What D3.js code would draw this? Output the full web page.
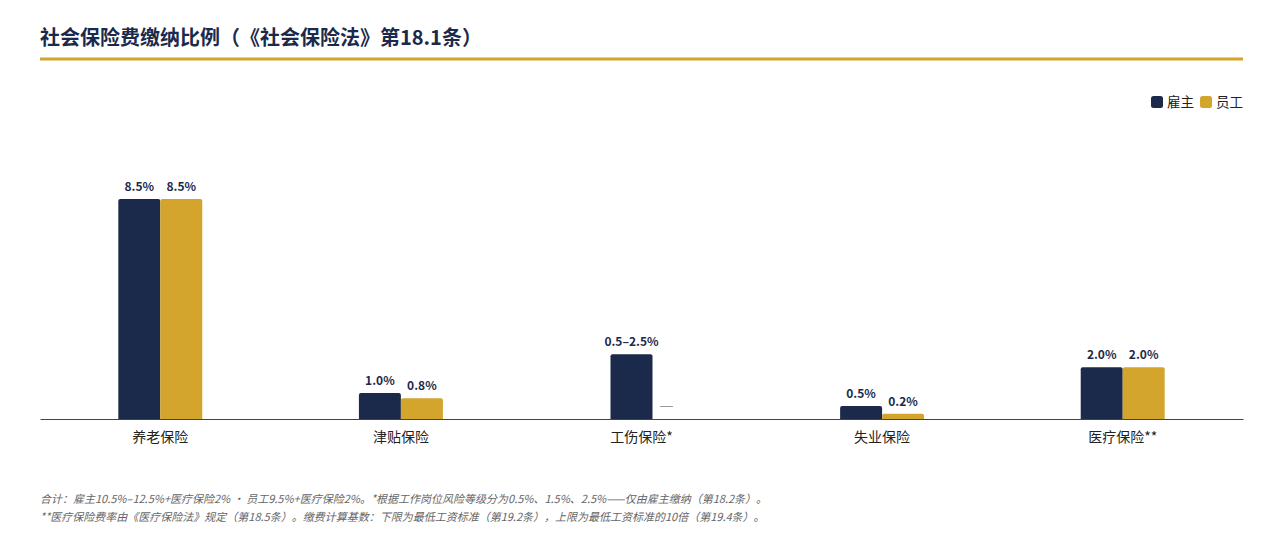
<!DOCTYPE html>
<html>
<head>
<meta charset="utf-8">
<script src="https://cdn.jsdelivr.net/npm/d3@7"></script>
<style>
  body { margin: 0; background: #fff; }
  svg {
    display: block;
    font-family: "Noto Sans CJK SC", "Noto Sans", sans-serif;
    font-feature-settings: "chws" 0, "halt" 0;
    text-spacing-trim: space-all;
  }
</style>
</head>
<body>
<svg width="1283" height="541"></svg>
<script>
const categories = ["养老保险", "津贴保险", "工伤保险*", "失业保险", "医疗保险**"];
const series = ["雇主", "员工"];
const employerValues = [8.5, 1.0, 2.5, 0.5, 2.0];
const employeeValues = [8.5, 0.8, null, 0.2, 2.0];
const employerLabels = ["8.5%", "1.0%", "0.5–2.5%", "0.5%", "2.0%"];
const employeeLabels = ["8.5%", "0.8%", "—", "0.2%", "2.0%"];
const footnotes = [
    "合计：雇主10.5%–12.5%+医疗保险2% · 员工9.5%+医疗保险2%。*根据工作岗位风险等级分为0.5%、1.5%、2.5%——仅由雇主缴纳（第18.2条）。",
    "**医疗保险费率由《医疗保险法》规定（第18.5条）。缴费计算基数：下限为最低工资标准（第19.2条），上限为最低工资标准的10倍（第19.4条）。"
];

const navy = "#1b2a4b";
const gold = "#d4a52c";
const colors = [navy, gold];

const left = 40;
const right = 1243;
const baseline = 419;
const dashWidth = 13;
const dashGap = 7;

const svg = d3.select("svg");

// title
svg.append("text")
    .attr("x", left)
    .attr("y", 45)
    .attr("fill", navy)
    .style("font-size", "20px")
    .style("font-weight", 700)
    .text("社会保险费缴纳比例（《社会保险法》第18.1条）");

svg.append("rect")
    .attr("x", left)
    .attr("y", 57.5)
    .attr("width", right - left)
    .attr("height", 3)
    .attr("fill", gold);

// legend, right-aligned
const legend = svg.append("g");
let lx = right;
for (let i = series.length - 1; i >= 0; i--) {
    const t = legend.append("text")
        .attr("y", 107)
        .attr("fill", "#222")
        .style("font-size", "13.5px")
        .text(series[i]);
    const w = t.node().getComputedTextLength();
    t.attr("x", lx - w);
    legend.append("rect")
        .attr("x", lx - w - 16)
        .attr("y", 96)
        .attr("width", 12)
        .attr("height", 12)
        .attr("rx", 2.5)
        .attr("fill", colors[i]);
    lx = lx - w - 22;
}

const x0 = d3.scaleBand()
    .domain(categories)
    .range([left, right])
    .paddingInner(0.651)
    .paddingOuter(0.3255);

const x1 = d3.scaleBand()
    .domain(series)
    .range([0, x0.bandwidth()]);

const y = d3.scaleLinear()
    .domain([0, 8.5])
    .range([baseline, 199]);

// lay out each group: bars take a full sub-band, a missing value only a dash, and the group is centred
const rows = categories.map((c, i) => {
    const vals = [
        { s: series[0], v: employerValues[i], label: employerLabels[i] },
        { s: series[1], v: employeeValues[i], label: employeeLabels[i] }
    ];
    const widths = vals.map(d => d.v != null ? x1.bandwidth() : dashGap + dashWidth);
    let pos = (x0.bandwidth() - d3.sum(widths)) / 2;
    vals.forEach((d, j) => { d.x = pos; d.w = widths[j]; pos += widths[j]; });
    return { cat: c, vals };
});

function topRounded(x, yTop, w, h, r) {
    r = Math.min(r, h);
    return `M${x},${yTop + h}V${yTop + r}Q${x},${yTop} ${x + r},${yTop}H${x + w - r}Q${x + w},${yTop} ${x + w},${yTop + r}V${yTop + h}Z`;
}

const groups = svg.selectAll("g.group")
    .data(rows)
    .enter()
    .append("g")
    .attr("class", "group")
    .attr("transform", d => `translate(${x0(d.cat)},0)`);

groups.selectAll("path.bar")
    .data(d => d.vals.filter(v => v.v != null))
    .enter()
    .append("path")
    .attr("class", "bar")
    .attr("d", d => topRounded(d.x, y(d.v), d.w, baseline - y(d.v), 2))
    .attr("fill", d => colors[series.indexOf(d.s)]);

groups.selectAll("text.val")
    .data(d => d.vals.filter(v => v.v != null))
    .enter()
    .append("text")
    .attr("class", "val")
    .attr("x", d => d.x + d.w / 2)
    .attr("y", d => y(d.v) - 8)
    .attr("text-anchor", "middle")
    .attr("fill", navy)
    .style("font-size", "12px")
    .style("font-weight", 700)
    .text(d => d.label);

// missing values shown as a grey dash
groups.selectAll("text.missing")
    .data(d => d.vals.filter(v => v.v == null))
    .enter()
    .append("text")
    .attr("class", "missing")
    .attr("x", d => d.x + dashGap)
    .attr("y", baseline - 9)
    .attr("fill", "#999")
    .style("font-family", "'DejaVu Sans', sans-serif")
    .style("font-size", "14px")
    .text(d => d.label);

// axis
const axis = svg.append("g")
    .attr("transform", `translate(0,${baseline})`)
    .call(d3.axisBottom(x0).tickSize(0).tickPadding(13));
axis.select(".domain").attr("stroke", "#444");
axis.selectAll("text")
    .attr("fill", "#222")
    .style("font-size", "14px")
    .style("font-family", "'Noto Sans CJK SC', sans-serif");

// footnotes
svg.selectAll("text.note")
    .data(footnotes)
    .enter()
    .append("text")
    .attr("class", "note")
    .attr("x", left)
    .attr("y", (d, i) => 503 + i * 18)
    .attr("fill", "#666")
    .style("font-size", "11px")
    .style("font-style", "italic")
    .text(d => d);
</script>
</body>
</html>
